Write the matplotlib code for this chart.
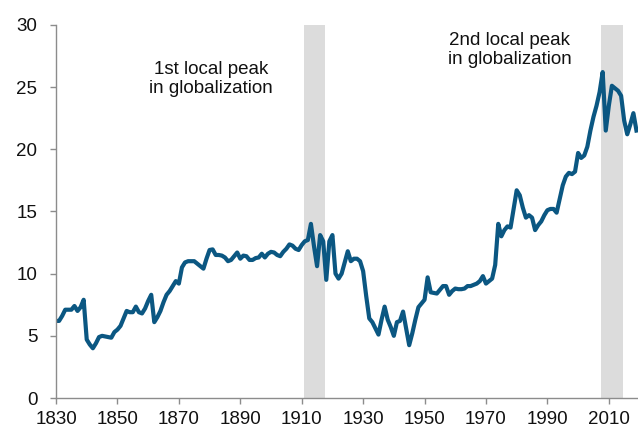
import matplotlib.pyplot as plt

years = list(range(1830, 2020))
trade_share = [
    6.2, 6.2, 6.6, 7.1, 7.1, 7.1, 7.4, 7.0, 7.3, 7.9,
    4.7, 4.3, 4.0, 4.4, 4.9, 5.0, 4.95, 4.9, 4.85, 5.3,
    5.5, 5.8, 6.4, 7.0, 6.9, 6.9, 7.35, 6.9, 6.8, 7.2,
    7.8, 8.3, 6.1, 6.5, 7.0, 7.7, 8.3, 8.6, 9.0, 9.4,
    9.2, 10.5, 10.9, 11.0, 11.0, 11.0, 10.8, 10.6, 10.4, 11.2,
    11.9, 11.95, 11.5, 11.5, 11.45, 11.3, 11.0, 11.1, 11.4, 11.7,
    11.2, 11.45, 11.4, 11.1, 11.1, 11.25, 11.3, 11.6, 11.3, 11.6,
    11.75, 11.7, 11.5, 11.4, 11.75, 12.0, 12.35, 12.25, 12.0, 11.9,
    12.3, 12.6, 12.7, 14.0, 12.2, 10.6, 13.1, 12.6, 9.5, 12.6,
    13.1, 10.0, 9.6, 10.0, 10.9, 11.8, 11.0, 11.2, 11.2, 11.0,
    10.2, 8.2, 6.4, 6.1, 5.6, 5.1, 6.3, 7.35, 6.3, 5.7,
    5.0, 6.1, 6.2, 6.95, 5.6, 4.25, 5.2, 6.3, 7.3, 7.6,
    7.9, 9.7, 8.5, 8.45, 8.4, 8.7, 9.0, 9.0, 8.3, 8.6,
    8.8, 8.75, 8.75, 8.8, 9.0, 9.0, 9.1, 9.2, 9.4, 9.8,
    9.2, 9.4, 9.6, 10.7, 14.0, 13.0, 13.5, 13.8, 13.7, 15.2,
    16.7, 16.3, 15.3, 14.5, 14.7, 14.5, 13.5, 13.9, 14.2, 14.7,
    15.1, 15.2, 15.2, 14.9, 16.0, 17.1, 17.8, 18.1, 18.0, 18.2,
    19.7, 19.3, 19.5, 20.2, 21.5, 22.6, 23.5, 24.6, 26.2, 21.5,
    23.5, 25.1, 24.9, 24.7, 24.3, 22.3, 21.2, 22.0, 22.9, 21.5,
]

peak_periods = [(1910.8, 1917.7), (2007.4, 2014.6)]
peak_labels = ["1st local peak\nin globalization", "2nd local peak\nin globalization"]
label_pos = [(1880.5, 25.65), (1977.8, 27.95)]

x_ticks = list(range(1830, 2011, 20))
y_ticks = list(range(0, 31, 5))

plt.rcParams["font.family"] = ["Liberation Sans", "DejaVu Sans"]

fig = plt.figure(figsize=(6.38, 4.28), dpi=100)
ax = fig.add_axes([0.0878, 0.07, 0.9122, 0.872])

for start, end in peak_periods:
    ax.axvspan(start, end, color="#dcdcdc", lw=0, zorder=0)

ax.plot(years, trade_share, color="#0b5782", lw=3.0, solid_joinstyle="round", zorder=2)

for (tx, ty), txt in zip(label_pos, peak_labels):
    ax.text(tx, ty, txt, ha="center", va="center", fontsize=13.5, color="#111111",
            linespacing=1.15)

ax.set_xlim(1830, 2019.5)
ax.set_ylim(0, 30)
ax.set_xticks(x_ticks)
ax.set_yticks(y_ticks)

for side in ["top", "right"]:
    ax.spines[side].set_visible(False)
for side in ["left", "bottom"]:
    ax.spines[side].set_color("#8c8c8c")
    ax.spines[side].set_linewidth(1.0)

ax.tick_params(axis="both", colors="#8c8c8c", labelcolor="#111111", labelsize=13.5,
               length=4.5, width=1.0, direction="out")
ax.tick_params(axis="y", pad=9)
ax.tick_params(axis="x", pad=5)

fig.savefig("out.png", dpi=100)
